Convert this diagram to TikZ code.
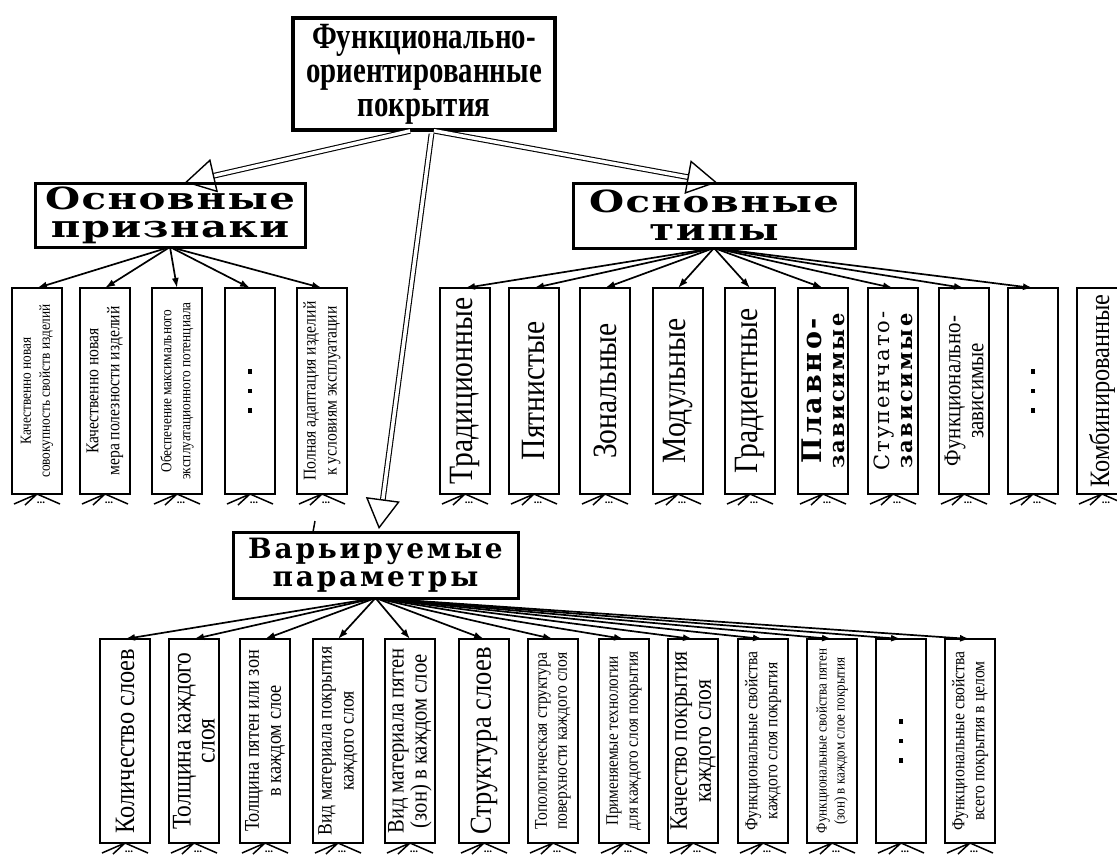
\documentclass[tikz,border=0pt]{standalone}
\usepackage{fontspec}
\setmainfont{Liberation Serif}
\newfontfamily\widefont[LetterSpace=10]{DejaVu Serif}
\newfontfamily\widerfont[FakeStretch=1.32,LetterSpace=5]{DejaVu Serif}
\newfontfamily\topfont[FakeStretch=0.78]{Liberation Serif}
\newfontfamily\condfont[FakeStretch=0.87]{Liberation Serif}
\usetikzlibrary{arrows.meta,calc}
\newcommand\sqdots{\rule{4.5pt}{4.5pt}\hspace{15pt}\rule{4.5pt}{4.5pt}\hspace{15pt}\rule{4.5pt}{4.5pt}}
\newcommand\fc[2]{\condfont\fontsize{#1}{#2}\selectfont}
\newcommand\moremk[1]{%
  \draw[moreln] (#1.west) -- ++(-23,10) (#1.west) -- ++(-12,11) (#1.west) -- ++(23,10);
  \path (#1.west) ++(4,9) node[font=\bfseries\fontsize{11}{11}\selectfont]{...};}
\begin{document}
\begin{tikzpicture}[x=1pt,y=-1pt,
  every node/.style={inner sep=0pt, outer sep=0pt},
  topbox/.style={draw, line width=4pt, minimum width=262pt, minimum height=112pt, align=center,
     font=\topfont\bfseries\fontsize{37}{34}\selectfont},
  midbox/.style={draw, line width=3pt, align=center},
  vbox/.style={draw, line width=2.6pt, rotate=90, minimum width=206pt, minimum height=50pt, align=center},
  thinarr/.style={line width=1.7pt, -{Latex[length=10pt,width=7pt]}},
  bigarr/.style={double, double distance=3.5pt, line width=1.1pt, shorten <=4pt, shorten >=3pt,
     -{Triangle[open, length=30pt, width=34pt, line width=1.4pt]}},
  moreln/.style={line width=1.5pt}
]
\useasboundingbox (0,0) rectangle (1117,857);
\clip (0,0) rectangle (1117,857);

% parents
\node[topbox] (T) at (424,74) {Функционально-\\ориентированные\\покрытия};
\node[midbox, minimum width=270pt, minimum height=64pt, font=\widerfont\bfseries\fontsize{30.5}{28}\selectfont] (P) at (170,215) {Основные\\признаки};
\node[midbox, minimum width=282pt, minimum height=65pt, font=\widerfont\bfseries\fontsize{30.5}{28}\selectfont] (Ty) at (714,215.5) {Основные\\типы};
\node[midbox, minimum width=285pt, minimum height=66pt, font=\widefont\bfseries\fontsize{28}{28}\selectfont] (V) at (375.5,565) {Варьируемые\\параметры};

\draw[bigarr] ([xshift=-10pt]T.south) -- ([xshift=12pt]P.north);
\draw[bigarr] ([xshift=6pt]T.south) -- ([xshift=6pt]Ty.north);
\draw[bigarr] ([xshift=8pt]T.south) -- ([xshift=3pt]V.north);

\coordinate (s1) at (315,521);
\coordinate (s2) at (313,532);
\draw[line width=1.5pt] (s1) -- (s2);

% Основные признаки children
\node[vbox, font=\fc{15.3}{19}] (p1) at (37,391) {Качественно новая\\совокупность свойств изделий};
\node[vbox, font=\fc{18}{21}] (p2) at (105,391) {Качественно новая\\мера полезности изделий};
\node[vbox, font=\fc{15.3}{19}] (p3) at (177,391) {Обеспечение максимального\\эксплуатационного потенциала};
\node[vbox] (p4) at (250,391) {\sqdots};
\node[vbox, font=\fc{18}{21}] (p5) at (322,391) {Полная адаптация изделий\\к условиям эксплуатации};
\foreach \n in {p1,p2,p3,p4,p5} {\draw[thinarr] (P.south) -- (\n.east); \moremk{\n}}

% Основные типы children
\node[vbox, font=\fc{34}{34}] (t1) at (465,391) {Традиционные};
\node[vbox, font=\fc{34}{34}] (t2) at (534,391) {Пятнистые};
\node[vbox, font=\fc{34}{34}] (t3) at (605,391) {Зональные};
\node[vbox, font=\fc{34}{34}] (t4) at (678,391) {Модульные};
\node[vbox, font=\fc{34}{34}] (t5) at (750,391) {Градиентные};
\node[vbox, font=\widefont\bfseries\fontsize{27}{23}\selectfont] (t6) at (823,391) {Плавно-\\{\fontsize{21}{21}\selectfont зависимые}};
\node[vbox, font=\widefont\fontsize{21}{23}\selectfont] (t7) at (893,391) {Ступенчато-\\{\bfseries\fontsize{21}{21}\selectfont зависимые}};
\node[vbox, font=\fc{24}{23}] (t8) at (964,391) {Функционально-\\зависимые};
\node[vbox] (t9) at (1033,391) {\sqdots};
\node[vbox, font=\fc{28}{28}] (t10) at (1102,391) {Комбинированные};
\foreach \n in {t1,t2,t3,t4,t5,t6,t7,t8,t9} {\draw[thinarr] (Ty.south) -- (\n.east);}
\foreach \n in {t1,t2,t3,t4,t5,t6,t7,t8,t9,t10} {\moremk{\n}}

% Варьируемые параметры children
\node[vbox, minimum width=204pt, font=\fc{28}{28}] (v1) at (125,741) {Количество слоев};
\node[vbox, minimum width=204pt, font=\fc{27}{24}] (v2) at (194,741) {Толщина каждого\\слоя};
\node[vbox, minimum width=204pt, font=\fc{21}{22}] (v3) at (265,741) {Толщина пятен или зон\\в каждом слое};
\node[vbox, minimum width=204pt, font=\fc{20.3}{22}] (v4) at (338,741) {Вид материала покрытия\\каждого слоя};
\node[vbox, minimum width=204pt, font=\fc{23.7}{23}] (v5) at (410,741) {Вид материала пятен\\(зон) в каждом слое};
\node[vbox, minimum width=204pt, font=\fc{30.5}{30}] (v6) at (484,741) {Структура слоев};
\node[vbox, minimum width=204pt, font=\fc{18}{20}] (v7) at (553,741) {Топологическая структура\\поверхности каждого слоя};
\node[vbox, minimum width=204pt, font=\fc{17.5}{20}] (v8) at (624,741) {Применяемые технологии\\для каждого слоя покрытия};
\node[vbox, minimum width=204pt, font=\fc{25}{24}] (v9) at (693,741) {Качество покрытия\\каждого слоя};
\node[vbox, minimum width=204pt, font=\fc{18}{20}] (v10) at (763,741) {Функциональные свойства\\каждого слоя покрытия};
\node[vbox, minimum width=204pt, font=\fc{15}{18}] (v11) at (832,741) {Функциональные свойства пятен\\(зон) в каждом слое покрытия};
\node[vbox, minimum width=204pt] (v12) at (901,741) {\sqdots};
\node[vbox, minimum width=204pt, font=\fc{18}{20}] (v13) at (970,741) {Функциональные свойства\\всего покрытия в целом};
\foreach \n in {v1,v2,v3,v4,v5,v6,v7,v8,v9,v10,v11,v12,v13} {\draw[thinarr] (V.south) -- (\n.east); \moremk{\n}}
\end{tikzpicture}
\end{document}
